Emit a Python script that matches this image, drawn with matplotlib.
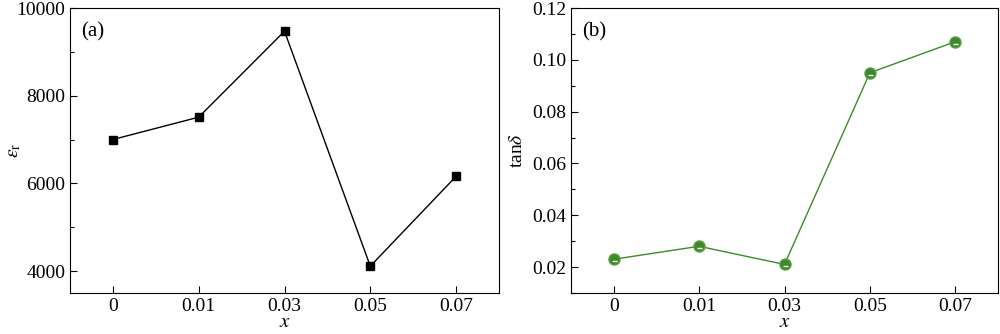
import matplotlib
matplotlib.use("Agg")
import matplotlib.pyplot as plt
import numpy as np
from matplotlib.path import Path
from matplotlib.ticker import MultipleLocator

# data
x_labels = ["0", "0.01", "0.03", "0.05", "0.07"]
eps_r = [7000, 7510, 9470, 4110, 6160]
tan_delta = [0.023, 0.028, 0.021, 0.095, 0.107]

plt.rcParams["font.family"] = ["Liberation Serif", "DejaVu Serif"]
plt.rcParams["mathtext.fontset"] = "stix"
plt.rcParams["font.size"] = 14

green = "#3d8a2a"
pos = np.arange(len(x_labels))

fig = plt.figure(figsize=(10, 3.34), dpi=100)
ax1 = fig.add_axes([0.070, 0.123, 0.429, 0.853])
ax2 = fig.add_axes([0.571, 0.123, 0.427, 0.853])

# (a) permittivity
ax1.plot(pos, eps_r, "-", color="black", lw=1.0, marker="s", ms=6)
ax1.set_ylim(3500, 10000)
ax1.yaxis.set_major_locator(MultipleLocator(2000))
ax1.yaxis.set_minor_locator(MultipleLocator(1000))
ax1.set_ylabel(r"$\varepsilon_{\mathrm{r}}$", fontsize=14)
ax1.yaxis.set_label_coords(-0.11, 0.5)
ax1.text(0.025, 0.95, "(a)", transform=ax1.transAxes, va="top", ha="left",
         fontsize=15)

# (b) loss tangent
# small white dash in the lower part of each marker
dash = Path([(1, 1), (-0.45, -0.3), (0.45, -0.3)],
            [Path.MOVETO, Path.MOVETO, Path.LINETO])
ax2.plot(pos, tan_delta, "-", color=green, lw=1.0, marker="o", ms=8,
         mfc=green, mec="#5fa048")
ax2.plot(pos, tan_delta, linestyle="none", marker=dash, ms=8,
         mec="white", mew=1.0)
ax2.set_ylim(0.01, 0.12)
ax2.yaxis.set_major_locator(MultipleLocator(0.02))
ax2.yaxis.set_minor_locator(MultipleLocator(0.01))
ax2.yaxis.set_major_formatter(plt.FormatStrFormatter("%.2f"))
ax2.set_ylabel(r"tan$\mathit{\delta}$", labelpad=4)
ax2.text(0.025, 0.95, "(b)", transform=ax2.transAxes, va="top", ha="left",
         fontsize=15)

for ax in (ax1, ax2):
    ax.set_xlim(-0.5, 4.5)
    ax.set_xticks(pos)
    ax.set_xticklabels(x_labels)
    ax.set_xlabel(r"$\mathit{x}$", labelpad=-1, fontsize=15)
    ax.tick_params(which="major", direction="in", length=5, width=0.8,
                   top=False, right=False)
    ax.tick_params(which="minor", direction="in", length=3, width=0.8)
    ax.tick_params(axis="x", which="minor", bottom=False)
    for s in ax.spines.values():
        s.set_linewidth(0.8)

fig.savefig("out.png", dpi=100)
